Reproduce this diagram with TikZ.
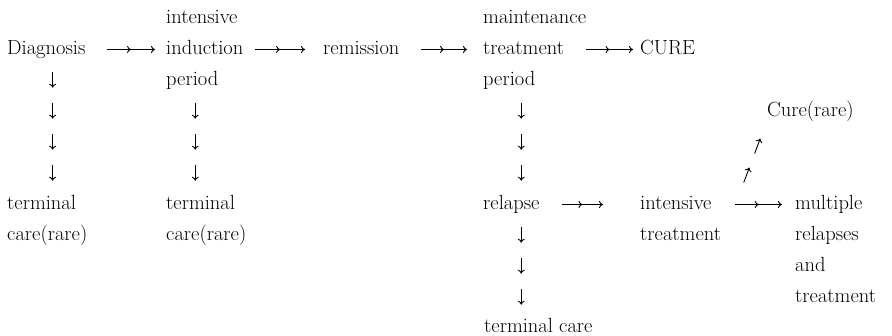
\documentclass[tikz,border=0pt]{standalone}
\usepackage{fontspec}
\usetikzlibrary{arrows.meta,decorations.markings}
\tikzset{
  lbl/.style={anchor=base west, inner sep=0pt, text height=14pt, text depth=4pt,
              font=\fontsize{20.5pt}{24pt}\selectfont},
  arr/.style={line width=0.9pt, -{To[length=4pt,width=7pt]}},
  dblarrow/.style={arr, postaction={decorate},
     decoration={markings, mark=at position 0.5 with {\arrow[line width=0.9pt]{To[length=4pt,width=7pt]}}}},
  arrowrun/.style={postaction={decorate},
     decoration={markings, mark=between positions #1 and -18pt step 31pt with {\draw[arr] (0,0) -- (16pt,0);}}},
}
\begin{document}
\begin{tikzpicture}[x=1pt,y=-1pt]
\useasboundingbox (0,0) rectangle (892,336);
% column 1
\node[lbl] (diag)  at (7,54.5)  {Diagnosis};
\node[lbl] (term1) at (7,209.5) {terminal};
\node[lbl] (care1) at (7,240.5) {care(rare)};
% column 2
\node[lbl] (int1)  at (166,23.5)  {intensive};
\node[lbl] (ind)   at (166,54.5)  {induction};
\node[lbl] (per1)  at (166,85.5)  {period};
\node[lbl] (term2) at (166,209.5) {terminal};
\node[lbl] (care2) at (166,240.5) {care(rare)};
% remission
\node[lbl] (rem)   at (323,54.5)  {remission};
% column 3
\node[lbl] (maint) at (483,23.5)  {maintenance};
\node[lbl] (treat) at (483,54.5)  {treatment};
\node[lbl] (per2)  at (483,85.5)  {period};
\node[lbl] (relapse) at (483,209.5) {relapse};
\node[lbl] (termc) at (484,332.5) {terminal care};
% cure
\node[lbl] (cure)  at (640,54.5)  {CURE};
\node[lbl] (curer) at (767,116.5) {Cure(rare)};
% intensive treatment
\node[lbl] (int2)  at (640,209.5) {intensive};
\node[lbl] (treat2) at (640,240.5) {treatment};
% multiple relapses
\node[lbl] (mult)  at (795,209.5) {multiple};
\node[lbl] (rel2)  at (795,240.5) {relapses};
\node[lbl] (and)   at (795,271.5) {and};
\node[lbl] (treat3) at (795,302.5) {treatment};
% horizontal double arrows
\draw[dblarrow] ([xshift=21.6pt]diag.east) -- ([xshift=-11pt]ind.west);
\draw[dblarrow] ([xshift=11.7pt]ind.east) -- ([xshift=-18pt]rem.west);
\draw[dblarrow] ([xshift=21.6pt]rem.east) -- ([xshift=-16pt]treat.west);
\draw[dblarrow] ([xshift=22pt]treat.east) -- ([xshift=-7pt]cure.west);
\draw[dblarrow] ([xshift=22.3pt]relapse.east) -- ([xshift=-37pt]int2.west);
\coordinate (fork) at ([xshift=23.7pt]int2.east);
\draw[dblarrow] (fork) -- ([xshift=-13pt]mult.west);
% vertical runs of arrows
\path[arrowrun=13pt] ([xshift=6.3pt]diag.south) -- ([xshift=6.3pt]diag.south |- term1.north);
\path[arrowrun=13pt] ([xshift=3pt]per1.south) -- ([xshift=3pt]per1.south |- term2.north);
\path[arrowrun=13pt] ([xshift=12pt]per2.south) -- ([xshift=12pt]per2.south |- relapse.north);
\path[arrowrun=13pt] ([xshift=12pt]per2.south |- relapse.south) -- ([xshift=12pt]per2.south |- termc.north);
% tilted run to Cure(rare)
\path[arrowrun=23.5pt] (fork) -- (curer.south west);
\end{tikzpicture}
\end{document}
